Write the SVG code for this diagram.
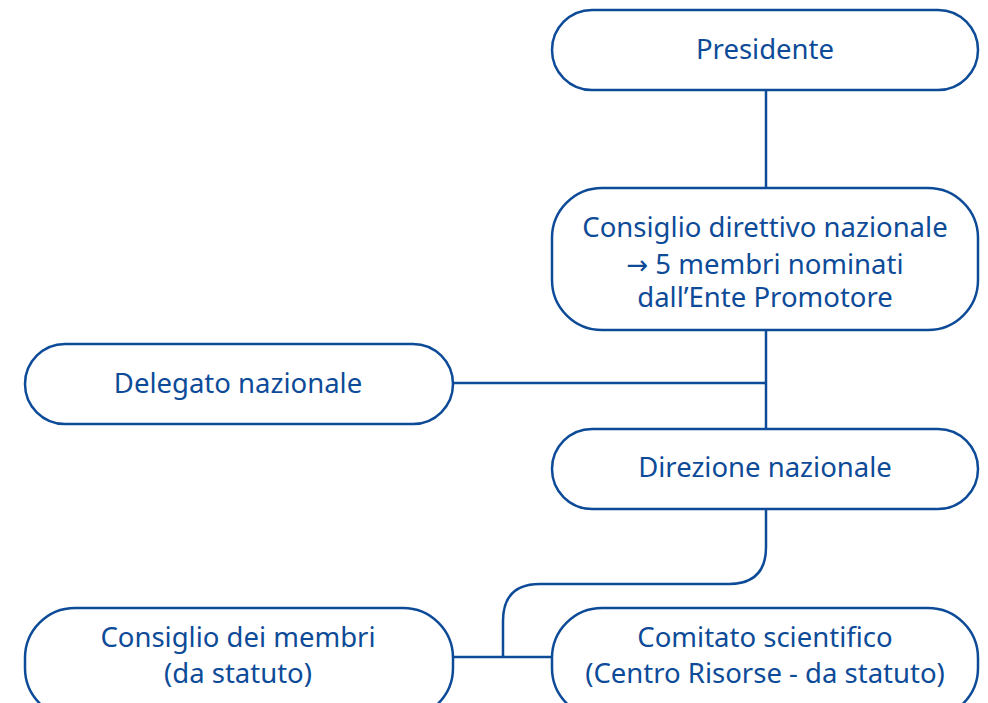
<svg xmlns="http://www.w3.org/2000/svg" width="988" height="703" viewBox="0 0 988 703">
<style>
.box{fill:#fff;stroke:#0d4b98;stroke-width:2.5}
.t{font-family:"Noto Sans","Open Sans",sans-serif;font-size:27.5px;fill:#0d4b98;text-anchor:middle}
.a{font-family:"DejaVu Sans",sans-serif;font-size:26px}
.c{fill:none;stroke:#0d4b98;stroke-width:2.5}
</style>
<rect width="988" height="703" fill="#fff"/>
<g id="connectors">
<path class="c" d="M766 90V188"/>
<path class="c" d="M766 330V429"/>
<path class="c" d="M453 383H766"/>
<path class="c" d="M766 509V547Q766 584 729 584H540Q503 584 503 621V657"/>
<path class="c" d="M453 657H552"/>
</g>
<g id="presidente"><rect class="box" x="552" y="10" width="426" height="80" rx="40"/><text class="t" x="765" y="59">Presidente</text></g>
<g id="consiglio-direttivo"><rect class="box" x="552" y="188" width="426" height="142" rx="50"/><text class="t"><tspan x="765" y="237">Consiglio direttivo nazionale</tspan><tspan x="765" y="274"><tspan class="a">→</tspan> 5 membri nominati</tspan><tspan x="765" y="307">dall’Ente Promotore</tspan></text></g>
<g id="delegato"><rect class="box" x="25" y="344" width="428" height="80" rx="40"/><text class="t" x="238" y="393">Delegato nazionale</text></g>
<g id="direzione"><rect class="box" x="552" y="429" width="426" height="80" rx="40"/><text class="t" x="765" y="477">Direzione nazionale</text></g>
<g id="consiglio-membri"><rect class="box" x="25" y="608" width="428" height="110" rx="50"/><text class="t"><tspan x="238" y="647">Consiglio dei membri</tspan><tspan x="238" y="683">(da statuto)</tspan></text></g>
<g id="comitato"><rect class="box" x="552" y="608" width="426" height="110" rx="50"/><text class="t"><tspan x="765" y="647">Comitato scientifico</tspan><tspan x="765" y="683">(Centro Risorse - da statuto)</tspan></text></g>
</svg>
